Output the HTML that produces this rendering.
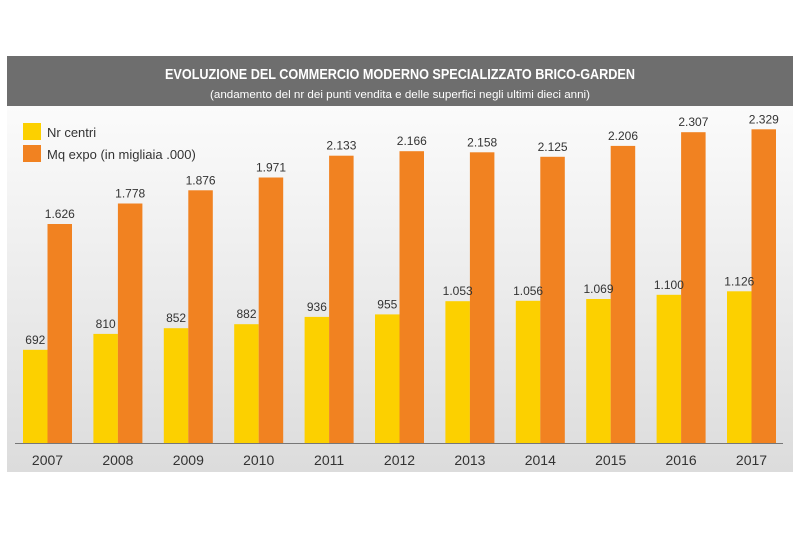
<!DOCTYPE html><html><head><style>
body{margin:0;width:800px;height:530px;background:#fff;overflow:hidden;font-family:"Liberation Sans",sans-serif}
</style></head><body>
<svg width="800" height="530" xmlns="http://www.w3.org/2000/svg" font-family="Liberation Sans, sans-serif">
<defs><linearGradient id="g" x1="0" y1="0" x2="0" y2="1"><stop offset="0" stop-color="#fbfbfb"/><stop offset="1" stop-color="#dcdcdc"/></linearGradient></defs>
<rect x="7" y="106" width="786" height="366" fill="url(#g)"/>
<rect x="7" y="56" width="786" height="50" fill="#6e6e6e"/>
<text x="400" y="79" text-anchor="middle" fill="#fff" font-size="15" font-weight="bold" textLength="470" lengthAdjust="spacingAndGlyphs">EVOLUZIONE DEL COMMERCIO MODERNO SPECIALIZZATO BRICO-GARDEN</text>
<text x="400" y="98" text-anchor="middle" fill="#fff" font-size="11" textLength="380" lengthAdjust="spacingAndGlyphs">(andamento del nr dei punti vendita e delle superfici negli ultimi dieci anni)</text>
<rect x="23" y="123" width="18" height="17" fill="#fcd000"/>
<rect x="23" y="145" width="18" height="17" fill="#f18221"/>
<text x="47" y="137" font-size="13" fill="#333">Nr centri</text>
<text x="47" y="159" font-size="13" fill="#333">Mq expo (in migliaia .000)</text>
<g font-size="12" fill="#333" text-anchor="middle">
<rect x="23" y="349.8" width="24.5" height="93.2" fill="#fcd000"/><rect x="47.5" y="224" width="24.5" height="219" fill="#f18221"/><text x="35.3" y="343.8">692</text><text x="59.8" y="218">1.626</text>
<rect x="93.4" y="333.9" width="24.5" height="109.1" fill="#fcd000"/><rect x="117.9" y="203.5" width="24.5" height="239.5" fill="#f18221"/><text x="105.7" y="327.9">810</text><text x="130.2" y="197.5">1.778</text>
<rect x="163.8" y="328.2" width="24.5" height="114.8" fill="#fcd000"/><rect x="188.3" y="190.3" width="24.5" height="252.7" fill="#f18221"/><text x="176.1" y="322.2">852</text><text x="200.6" y="184.3">1.876</text>
<rect x="234.2" y="324.2" width="24.5" height="118.8" fill="#fcd000"/><rect x="258.7" y="177.5" width="24.5" height="265.5" fill="#f18221"/><text x="246.5" y="318.2">882</text><text x="271" y="171.5">1.971</text>
<rect x="304.6" y="316.9" width="24.5" height="126.1" fill="#fcd000"/><rect x="329.1" y="155.7" width="24.5" height="287.3" fill="#f18221"/><text x="316.9" y="310.9">936</text><text x="341.4" y="149.7">2.133</text>
<rect x="375" y="314.4" width="24.5" height="128.6" fill="#fcd000"/><rect x="399.5" y="151.2" width="24.5" height="291.8" fill="#f18221"/><text x="387.3" y="308.4">955</text><text x="411.8" y="145.2">2.166</text>
<rect x="445.4" y="301.2" width="24.5" height="141.8" fill="#fcd000"/><rect x="469.9" y="152.3" width="24.5" height="290.7" fill="#f18221"/><text x="457.7" y="295.2">1.053</text><text x="482.2" y="146.3">2.158</text>
<rect x="515.8" y="300.8" width="24.5" height="142.2" fill="#fcd000"/><rect x="540.3" y="156.8" width="24.5" height="286.2" fill="#f18221"/><text x="528.1" y="294.8">1.056</text><text x="552.6" y="150.8">2.125</text>
<rect x="586.2" y="299" width="24.5" height="144" fill="#fcd000"/><rect x="610.7" y="145.9" width="24.5" height="297.1" fill="#f18221"/><text x="598.5" y="293">1.069</text><text x="623" y="139.9">2.206</text>
<rect x="656.6" y="294.8" width="24.5" height="148.2" fill="#fcd000"/><rect x="681.1" y="132.2" width="24.5" height="310.8" fill="#f18221"/><text x="668.9" y="288.8">1.100</text><text x="693.4" y="126.2">2.307</text>
<rect x="727" y="291.3" width="24.5" height="151.7" fill="#fcd000"/><rect x="751.5" y="129.3" width="24.5" height="313.7" fill="#f18221"/><text x="739.3" y="285.3">1.126</text><text x="763.8" y="123.3">2.329</text>
</g>
<g font-size="14" fill="#333" text-anchor="middle">
<text x="47.5" y="465">2007</text><text x="117.9" y="465">2008</text><text x="188.3" y="465">2009</text><text x="258.7" y="465">2010</text><text x="329.1" y="465">2011</text><text x="399.5" y="465">2012</text><text x="469.9" y="465">2013</text><text x="540.3" y="465">2014</text><text x="610.7" y="465">2015</text><text x="681.1" y="465">2016</text><text x="751.5" y="465">2017</text>
</g>
<line x1="15" y1="443.5" x2="783" y2="443.5" stroke="#777" stroke-width="1"/>
</svg></body></html>
